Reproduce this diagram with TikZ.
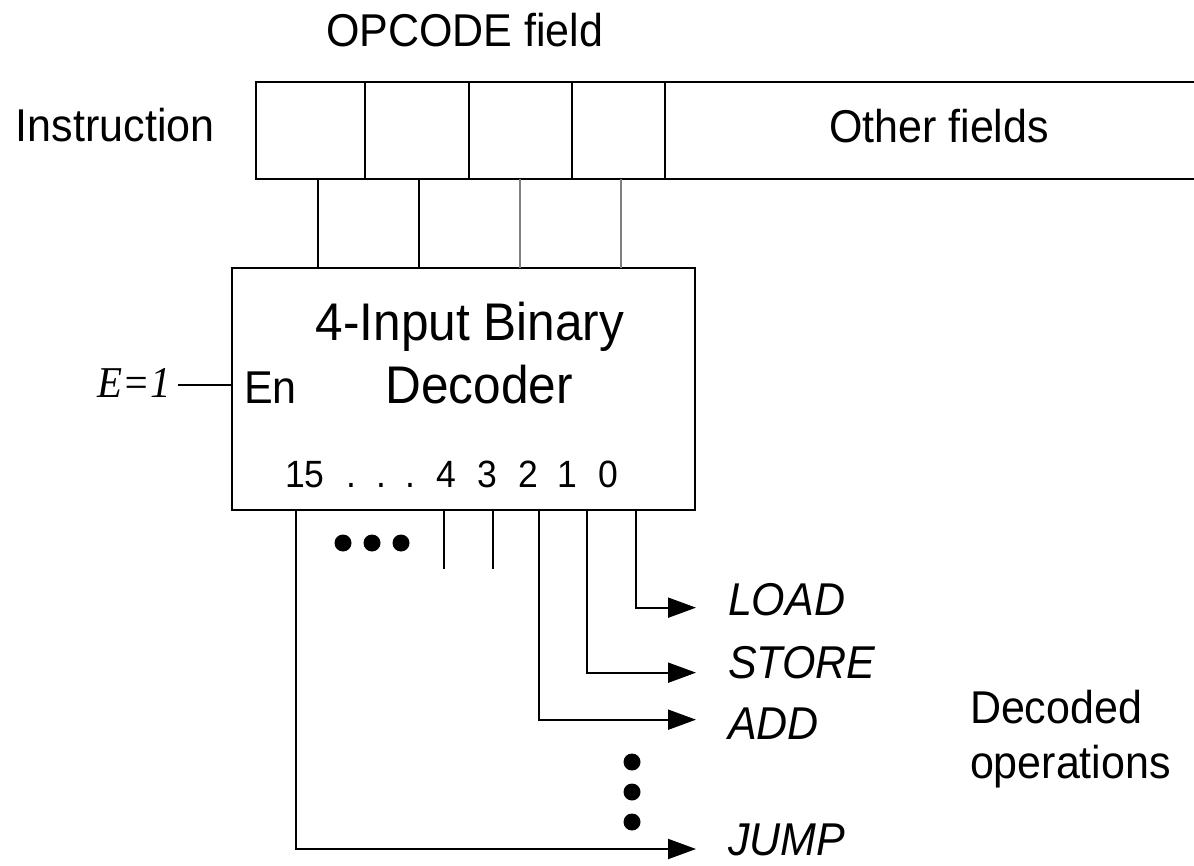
\documentclass[tikz,border=0pt]{standalone}
\usepackage{fontspec}
\setmainfont{Liberation Sans}[FakeStretch=0.935]
\newfontfamily\timesfont{Liberation Serif}[FakeStretch=0.93]
\usetikzlibrary{arrows.meta}
\begin{document}
\begin{tikzpicture}[x=0.5pt,y=-0.5pt,
  every node/.style={inner sep=0pt, outer sep=0pt},
  wire/.style={line width=1pt},
  greywire/.style={line width=1pt, draw=black!50},
  field/.style={draw, line width=1pt, minimum height=48.5pt},
  lbl/.style={font=\fontsize{23}{27.5}\selectfont},
  title/.style={font=\fontsize{26.5}{31.5}\selectfont, anchor=base},
  oplbl/.style={font=\fontsize{23}{27.5}\selectfont\itshape, anchor=base west},
  pin/.style={font=\fontsize{19}{22}\selectfont, anchor=base},
  dot/.style={circle, fill, minimum size=8.5pt},
  arr/.style={line width=1pt, -{Triangle[length=14pt,width=10pt]}}
]
\useasboundingbox (0,0) rectangle (1194,866);

% labels above / left
\node[lbl, anchor=base west] (opc) at (326,47) {OPCODE field};
\node[lbl, anchor=base west] (instr) at (16,142) {Instruction};

% instruction register
\node[field, minimum width=54.5pt] (f1) at (310.5,130.5) {};
\node[field, minimum width=52pt]   (f2) at (417,130.5) {};
\node[field, minimum width=51.5pt] (f3) at (520.5,130.5) {};
\node[field, minimum width=46.5pt] (f4) at (618.5,130.5) {};
\coordinate (regend) at (1198,130.5);
\node[lbl, anchor=base] (other) at (939,143) {Other fields};
\draw[wire] (f4.north east) -- (f4.north east -| regend);
\draw[wire] (f4.south east) -- (f4.south east -| regend);

% decoder
\node[draw, line width=1pt, minimum width=231.5pt, minimum height=121pt] (dec) at (463.5,389) {};
\node[title] (t1) at (470,340) {4-Input Binary};
\node[title] (t2) at (479,403) {Decoder};
\node[lbl, anchor=base west] (en) at (244,403) {En};
\node[font=\timesfont\itshape\fontsize{22}{26}\selectfont, anchor=base east] (e) at (171,397) {E=1};
\draw[wire] ([xshift=3.5pt,yshift=-1.5pt]e.east) -- ([yshift=-1.5pt]e.east -| dec.west);

% inputs
\draw[wire] ([xshift=3.75pt]f1.south) -- ([xshift=3.75pt]f1.south |- dec.north);
\draw[wire] ([xshift=1pt]f2.south) -- ([xshift=1pt]f2.south |- dec.north);
\draw[greywire] ([xshift=-0.25pt]f3.south) -- ([xshift=-0.25pt]f3.south |- dec.north);
\draw[greywire] ([xshift=1.25pt]f4.south) -- ([xshift=1.25pt]f4.south |- dec.north);

% pin numbers
\node[pin] (p15) at (305,487) {15};
\node[pin] (pd)  at (381,487) {.\ \ .\ \ .};
\node[pin] (p4)  at (446,487) {4};
\node[pin] (p3)  at (487,487) {3};
\node[pin] (p2)  at (528,487) {2};
\node[pin] (p1)  at (567,487) {1};
\node[pin] (p0)  at (608,487) {0};

% output positions
\coordinate (o15) at (296,0);
\coordinate (o2)  at (539,0);
\coordinate (o1)  at (587,0);
\coordinate (o0)  at (636,0);
\coordinate (s4)  at (444,569);
\coordinate (s3)  at (493,569);

% output labels
\node[oplbl] (load)  at (728,615) {LOAD};
\node[oplbl] (store) at (728,678) {STORE};
\node[oplbl] (add)   at (728,739) {ADD};
\node[oplbl] (jump)  at (728,855) {JUMP};

% outputs
\draw[wire] (dec.south -| s4) -- (s4);
\draw[wire] (dec.south -| s3) -- (s3);
\draw[arr] (dec.south -| o0) |- ([xshift=-16pt,yshift=-4.25pt]load.west);
\draw[arr] (dec.south -| o1) |- ([xshift=-16pt,yshift=-5.25pt]store.west);
\draw[arr] (dec.south -| o2) |- ([xshift=-16pt,yshift=1.75pt]add.west);
\draw[arr] (dec.south -| o15) |- ([xshift=-16pt,yshift=3pt]jump.base west);

% dots
\node[dot] (h1) at (343,543) {};
\node[dot] (h2) at (372,543) {};
\node[dot] (h3) at (401,543) {};
\node[dot] (v1) at (632,762) {};
\node[dot] (v2) at (632,792) {};
\node[dot] (v3) at (632,822) {};

% decoded operations
\node[lbl, align=left, anchor=north west] (decop) at (970,690) {Decoded\\operations};
\end{tikzpicture}
\end{document}
